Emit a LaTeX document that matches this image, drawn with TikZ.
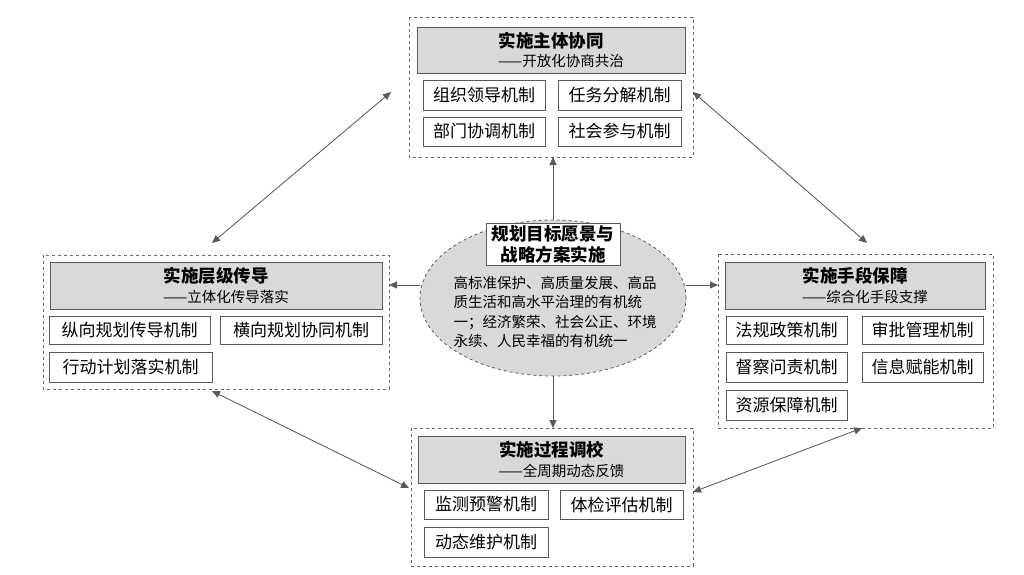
\documentclass[tikz,border=0pt]{standalone}
\usepackage{fontspec}
\setmainfont{Noto Sans CJK SC}
\XeTeXlinebreaklocale "zh"
\usetikzlibrary{arrows.meta,shapes.geometric}
\begin{document}
\begin{tikzpicture}[x=1pt,y=-1pt,
 outer/.style={draw=gray!80!black,dashed,line width=0.8pt},
 head/.style={draw=gray!70!black,fill=gray!30,line width=0.8pt},
 item/.style={draw=gray!70!black,fill=white,line width=0.8pt},
 arr/.style={-{Triangle[length=8pt,width=7pt]},draw=gray!70!black,fill=gray!70!black,line width=0.8pt},
 darr/.style={{Triangle[length=8pt,width=7pt]}-{Triangle[length=8pt,width=7pt]},draw=gray!70!black,fill=gray!70!black,line width=0.8pt}]
\useasboundingbox (0,0) rectangle (1024,574);
\newcommand{\hd}[6]{\draw[head] (#1,#2) rectangle (#3,#4);
 \node[font=\fontsize{17.5}{20}\selectfont\bfseries] at ({(#1+#3)/2},{#2+14}) {#5};
 \node[font=\fontsize{14.5}{16}\selectfont] at ({(#1+#3)/2+10},{#4-12}) {#6};}
\newcommand{\itm}[5]{\draw[item] (#1,#2) rectangle (#3,#4); \node[font=\fontsize{17}{19}\selectfont] at ({(#1+#3)/2},{(#2+#4)/2}) {#5};}
% top
\draw[outer] (409,17) rectangle (693,157);
\coordinate (T) at (553,157);
\hd{417}{27}{685}{73}{实施主体协同}{——开放化协商共治}
\itm{423}{80}{545}{110}{组织领导机制}
\itm{558}{80}{681}{110}{任务分解机制}
\itm{423}{117}{545}{146}{部门协调机制}
\itm{558}{117}{681}{146}{社会参与机制}
% left
\draw[outer] (43,255) rectangle (389,389);
\coordinate (L) at (389,285);
\hd{50}{262}{382}{309}{实施层级传导}{——立体化传导落实}
\itm{49}{316}{210}{344}{纵向规划传导机制}
\itm{220}{316}{382}{344}{横向规划协同机制}
\itm{49}{352}{212}{382}{行动计划落实机制}
% right
\draw[outer] (718,254) rectangle (993,428);
\coordinate (R) at (718,285);
\hd{725}{262}{985}{309}{实施手段保障}{——综合化手段支撑}
\itm{726}{316}{847}{344}{法规政策机制}
\itm{862}{316}{983}{344}{审批管理机制}
\itm{726}{352}{847}{382}{督察问责机制}
\itm{862}{352}{983}{382}{信息赋能机制}
\itm{726}{390}{847}{420}{资源保障机制}
% bottom
\draw[outer] (411,428) rectangle (693,566);
\coordinate (B) at (553,428);
\hd{418}{436}{685}{483}{实施过程调校}{——全周期动态反馈}
\itm{424}{490}{548}{519}{监测预警机制}
\itm{560}{490}{683}{519}{体检评估机制}
\itm{424}{527}{548}{557}{动态维护机制}
% center
\node[ellipse,draw=gray!70!black,dashed,fill=gray!30,line width=0.8pt,minimum width=266pt,minimum height=156pt,inner sep=0pt] (C) at (553,298) {};
\node[draw=gray!70!black,fill=white,line width=0.8pt,align=center,font=\fontsize{17.5}{21}\selectfont\bfseries,inner sep=2pt,minimum width=134pt] at (553,244.5) {规划目标愿景与\\战略方案实施};
\node[align=left,font=\fontsize{14.5}{19.5}\selectfont,inner sep=0pt] at (555,312) {高标准保护、高质量发展、高品\\质生活和高水平治理的有机统\\一；经济繁荣、社会公正、环境\\永续、人民幸福的有机统一};
\draw[arr] (C.north) -- (T);
\draw[arr] (C.south) -- (B);
\draw[arr] (C.west) ++(0,-13) coordinate (cw) (cw) -- (L);
\draw[arr] (C.east) ++(0,-13) coordinate (ce) (ce) -- (R);
\draw[darr] (391,92) -- (212,243);
\draw[darr] (693,92) -- (867,243);
\draw[darr] (212,391) -- (409,488);
\draw[darr] (862,428) -- (693,492);
\end{tikzpicture}
\end{document}
